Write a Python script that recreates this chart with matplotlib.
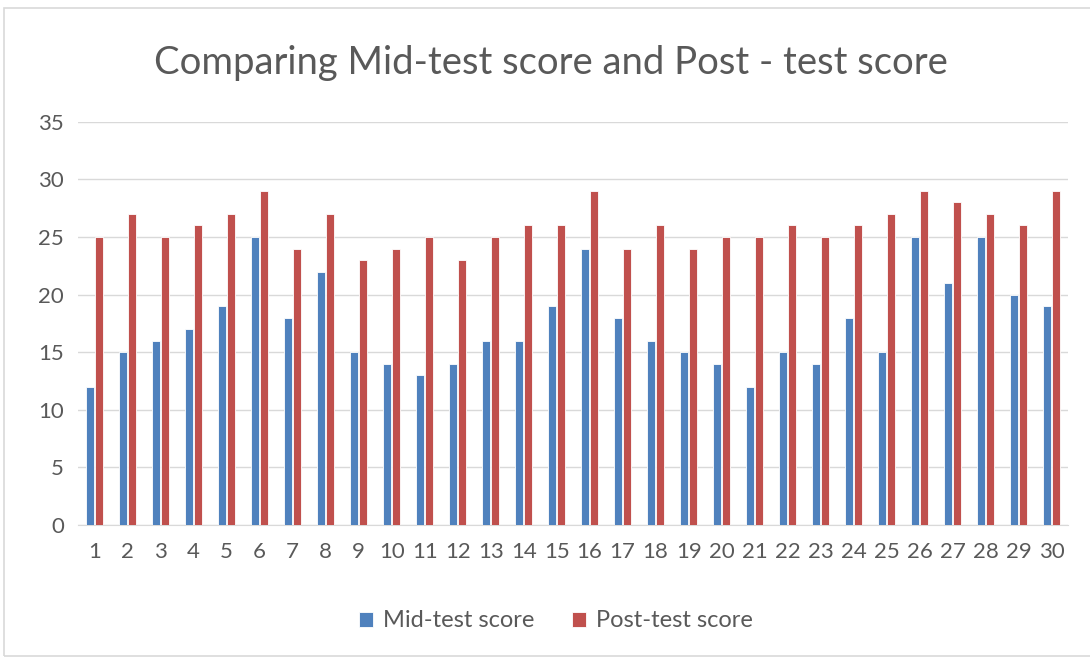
import matplotlib
matplotlib.use("Agg")
import matplotlib.pyplot as plt
import numpy as np
from matplotlib.patches import Rectangle

students = [str(i) for i in range(1, 31)]
mid_scores = [12, 15, 16, 17, 19, 25, 18, 22, 15, 14, 13, 14, 16, 16, 19,
              24, 18, 16, 15, 14, 12, 15, 14, 18, 15, 25, 21, 25, 20, 19]
post_scores = [25, 27, 25, 26, 27, 29, 24, 27, 23, 24, 25, 23, 25, 26, 26,
               29, 24, 26, 24, 25, 25, 26, 25, 26, 27, 29, 28, 27, 26, 29]

plt.rcParams['font.family'] = ['Lato', 'DejaVu Sans']

fig = plt.figure(figsize=(10.9, 6.62), dpi=100)
ax = fig.add_axes([0.0716, 0.207, 0.9084, 0.609])

x = np.arange(len(students))
w = 0.25
ax.bar(x - w / 2 - 0.01, mid_scores, w, color='#4F81BD', edgecolor='white',
       linewidth=0.6, label='Mid-test score', zorder=3)
ax.bar(x + w / 2 + 0.01, post_scores, w, color='#C0504D', edgecolor='white',
       linewidth=0.6, label='Post-test score', zorder=3)

ax.set_xlim(-0.5, len(students) - 0.5)
ax.set_ylim(0, 35)
ax.set_yticks(range(0, 36, 5))
ax.set_xticks(x)
ax.set_xticklabels(students)
ax.grid(axis='y', color='#D9D9D9', linewidth=1, zorder=0)
for s in ['top', 'right', 'left']:
    ax.spines[s].set_visible(False)
ax.spines['bottom'].set_color('#D9D9D9')
ax.tick_params(axis='both', length=0, labelsize=16, colors='#595959')
ax.tick_params(axis='x', pad=12)
ax.tick_params(axis='y', pad=10)

fig.text(0.505, 0.905, 'Comparing Mid-test score and Post - test score',
         ha='center', va='center', fontsize=27.5, color='#595959')

fig.legend(loc='center', bbox_to_anchor=(0.51, 0.062), ncol=2, frameon=False,
           fontsize=17, labelcolor='#595959', handlelength=0.6, handleheight=0.6,
           columnspacing=1.6, handletextpad=0.4)

fig.patches.append(Rectangle((4 / 1090, 6 / 662), 1.1, 1 - 14 / 662,
                             transform=fig.transFigure, fill=False,
                             edgecolor='#D9D9D9', linewidth=1.2))

fig.savefig('out.png', dpi=100)
